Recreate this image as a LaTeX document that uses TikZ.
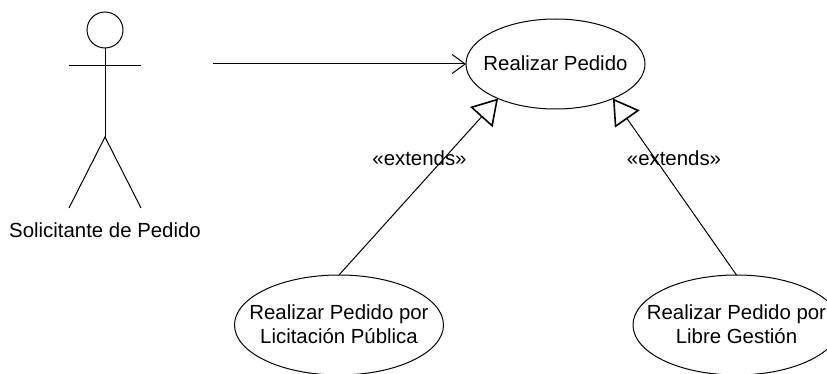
\documentclass[tikz,border=0pt]{standalone}
\usepackage{fontspec}
\setmainfont{Liberation Sans}
\usepackage{tikz}
\usetikzlibrary{arrows.meta}
\usetikzlibrary{shapes.geometric}
\tikzset{
    usecase/.style={draw, ellipse, inner sep=0, outer sep=0},
    usecasetext/.style={align=center, inner sep=0, yshift=1pt},
    association/.style={-{Straight Barb[length=13pt, width=19pt]}},
    extends/.style={-{Triangle[open, length=25pt, width=30pt, line width=1.6pt]}},
}

\begin{document}
\begin{tikzpicture}[x=1pt, y=-1pt, line width=1pt,
    font=\fontsize{20.4}{24.5}\selectfont]

    \clip (0, 0) rectangle (827, 374);

    \node [draw, circle, minimum size=36pt, inner sep=0, outer sep=0] (head) at (105, 30) {};
    \coordinate (hip) at (105, 137);
    \coordinate (lefthand) at (69, 65.5);
    \coordinate (righthand) at (141, 65.5);
    \coordinate (leftfoot) at (69, 208);
    \coordinate (rightfoot) at (141, 208);
    \coordinate (actor) at (213, 64);

    \draw (head.south) -- (hip);
    \draw (lefthand) -- (righthand);
    \draw (leftfoot) -- (hip) -- (rightfoot);

    \node (solicitante) at (105, 230) {Solicitante de Pedido};

    \node [usecase, minimum width=179pt, minimum height=90pt,
    label={[usecasetext]center:Realizar Pedido}] (pedido) at (555.5, 64) {};
    \node [usecase, minimum width=209pt, minimum height=100pt,
    label={[usecasetext]center:Realizar Pedido por\\Licitación Pública}] (licitacion) at (339, 325) {};
    \node [usecase, minimum width=207pt, minimum height=100pt,
    label={[usecasetext]center:Realizar Pedido por\\Libre Gestión}] (libre) at (736.5, 325) {};

    \draw [association] (actor) -- (pedido.west);

    \draw [extends] (licitacion.north) -- (pedido.211);
    \draw [extends] (libre.north) -- (pedido.329);

    \node (extendsleft) at (419.5, 158) {«extends»};
    \node (extendsright) at (674, 158) {«extends»};

\end{tikzpicture}
\end{document}
